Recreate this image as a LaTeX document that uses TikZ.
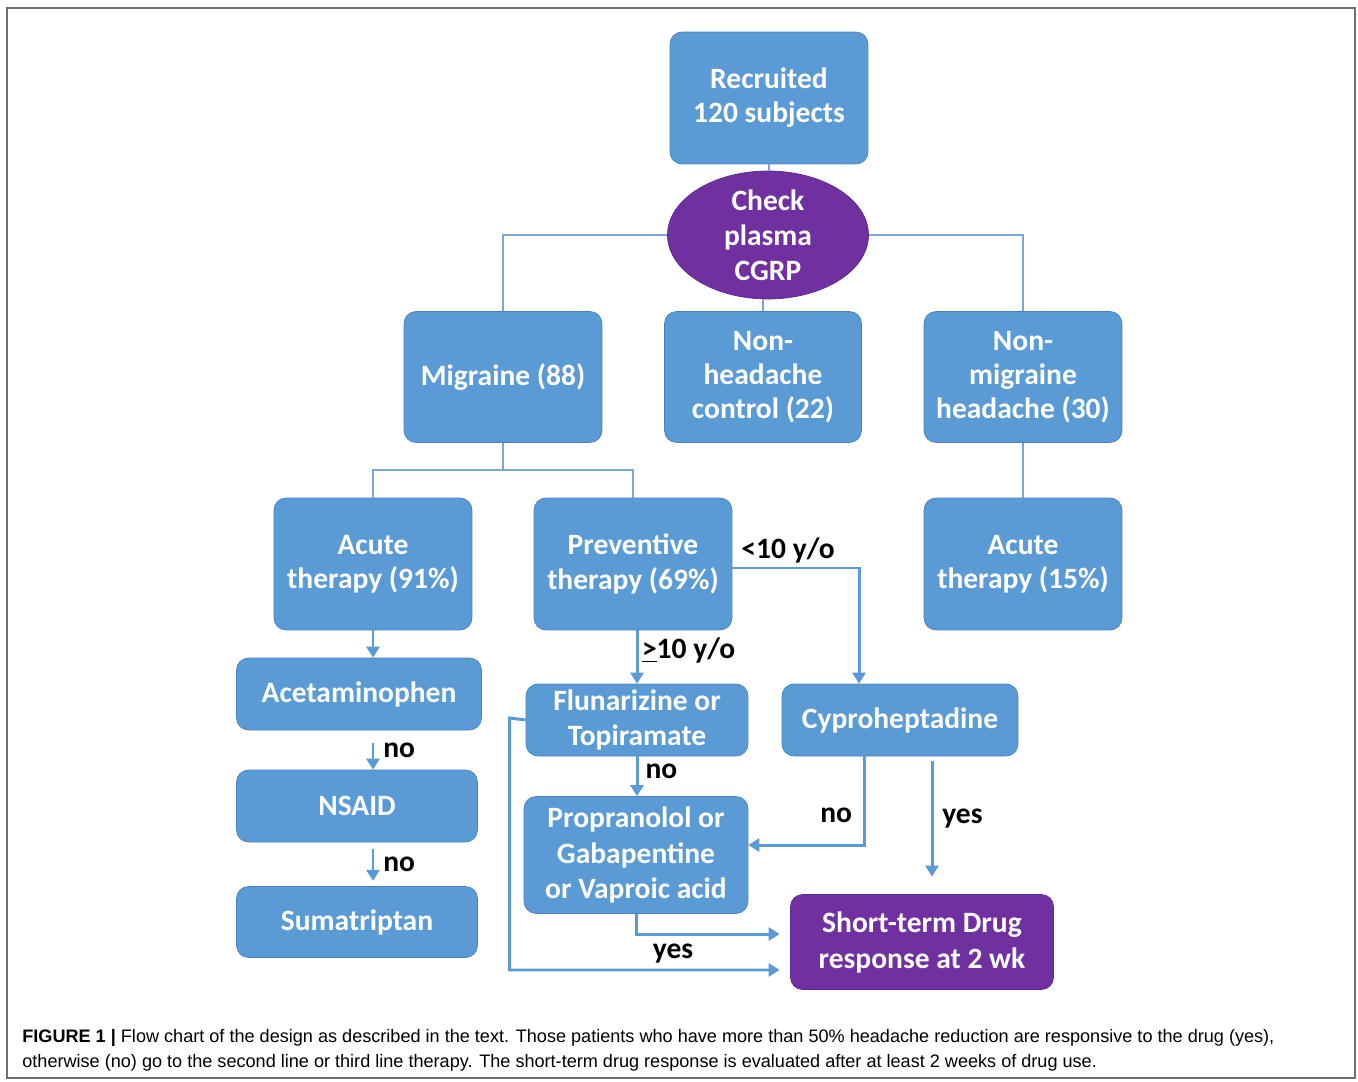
\documentclass[tikz,border=0pt]{standalone}
\usepackage{fontspec}
\setmainfont{Carlito}
\newfontfamily\capfont{Liberation Sans}
\usetikzlibrary{shapes.geometric,arrows.meta}

\definecolor{boxblue}{HTML}{5B9BD5}
\definecolor{boxedge}{HTML}{4A80B8}
\definecolor{boxpurple}{HTML}{7030A0}
\definecolor{purpleedge}{HTML}{5C2A8E}
\definecolor{treeline}{HTML}{7EA6D2}
\definecolor{framegray}{HTML}{707070}

\tikzset{
    box/.style={draw=boxedge, fill=boxblue, rounded corners=0.24cm, text=white, align=center, inner sep=0pt, font=\fontsize{16.8}{19.5}\selectfont\bfseries},
    endbox/.style={box, draw=purpleedge, fill=boxpurple},
    tree/.style={draw=treeline, line width=1pt},
    arr/.style={draw=boxblue, line width=1.7pt, -{Triangle[length=0.22cm, width=0.26cm]}},
    lbl/.style={font=\fontsize{16.8}{19.5}\selectfont\bfseries, inner sep=2pt}
}

\begin{document}
\begin{tikzpicture}[x=0.02cm, y=-0.02cm]
        \useasboundingbox (0,0) rectangle (1358,1081);
        \draw [framegray, line width=1.1pt] (7,8) rectangle (1355,1078);

        % top of the chart
        \node [box, minimum width=3.96cm, minimum height=2.64cm] (rec) at (769,98) {Recruited\\120 subjects};
        \node [ellipse, fill=boxpurple, draw=purpleedge, text=white, align=center, inner sep=0pt, minimum width=4.02cm, minimum height=2.2cm, font=\fontsize{16.8}{19.8}\selectfont\bfseries] (chk) at (768,235) {Check\\plasma\\CGRP};

        % groups
        \node [box, minimum width=3.96cm, minimum height=2.62cm] (mig) at (503,377) {Migraine (88)};
        \node [box, minimum width=3.94cm, minimum height=2.62cm] (nhc) at (763,377) {Non-\\headache\\control (22)};
        \node [box, minimum width=3.96cm, minimum height=2.62cm] (nmh) at (1023,377) {Non-\\migraine\\headache (30)};

        % therapies
        \node [box, minimum width=3.96cm, minimum height=2.64cm] (at1) at (373,564) {Acute\\therapy (91\%)};
        \node [box, minimum width=3.96cm, minimum height=2.64cm] (pre) at (633,564) {Preventive\\therapy (69\%)};
        \node [box, minimum width=3.96cm, minimum height=2.64cm] (at2) at (1023,564) {Acute\\therapy (15\%)};

        % drugs
        \node [box, minimum width=4.9cm, minimum height=1.44cm] (ace) at (359,694) {Acetaminophen};
        \node [box, minimum width=4.82cm, minimum height=1.44cm] (nsa) at (357,806) {NSAID};
        \node [box, minimum width=4.82cm, minimum height=1.42cm] (sum) at (357,922) {Sumatriptan};
        \node [box, minimum width=4.44cm, minimum height=1.44cm] (flu) at (637,720) {Flunarizine or\\Topiramate};
        \node [box, minimum width=4.72cm, minimum height=1.44cm] (cyp) at (900,720) {Cyproheptadine};
        \node [box, minimum width=4.48cm, minimum height=2.34cm, font=\fontsize{16.8}{20.2}\selectfont\bfseries] (pro) at (636,855) {Propranolol or\\Gabapentine\\or Vaproic acid};
        \node [endbox, minimum width=5.26cm, minimum height=1.9cm, font=\fontsize{16.8}{20.5}\selectfont\bfseries] (str) at (922,942) {Short-term Drug\\response at 2 wk};

        % tree lines
        \draw [tree] (rec.south) -- (rec.south |- chk.north);
        \draw [tree] (chk.west) -| (mig.north);
        \draw [tree] (chk.east) -| (nmh.north);
        \draw [tree] (nhc.north |- chk.south) -- (nhc.north);
        \draw [tree] (mig.south) -- ++(0,27) coordinate (mj);
        \draw [tree] (at1.north) |- (mj) -| (pre.north);
        \draw [tree] (nmh.south) -- (at2.north);

        % arrows
        \draw [arr] (at1.south) -- (at1.south |- ace.north);
        \draw [arr, shorten <=7pt] (at1.south |- ace.south) -- (at1.south |- nsa.north) node[lbl, midway, right, xshift=3pt]{no};
        \draw [arr, shorten <=3.5pt, shorten >=3pt] (at1.south |- nsa.south) -- (at1.south |- sum.north) node[lbl, midway, right, xshift=3pt]{no};
        \draw [arr] (flu.north |- pre.south) -- (flu.north) node[lbl, pos=0.38, right]{\underline{>}10 y/o};
        \draw [arr] ([yshift=-0.08cm]pre.east) -| ([xshift=-0.82cm]cyp.north) node[lbl, pos=0.22, above]{<10 y/o};
        \draw [arr] (flu.south) -- (flu.south |- pro.north) node[lbl, pos=0.38, right, xshift=2pt]{no};
        \draw [arr] ([xshift=-0.72cm]cyp.south) |- ([yshift=0.2cm]pro.east) node[lbl, pos=0.33, left, xshift=-4pt]{no};
        \draw [arr, shorten <=2.5pt, shorten >=10pt] ([xshift=0.64cm]cyp.south) -- ([xshift=0.64cm]cyp.south |- str.north) node[lbl, midway, right, xshift=3pt, yshift=4pt]{yes};
        \draw [arr, shorten >=6pt] (pro.south) |- ([yshift=0.16cm]str.west) node[lbl, pos=0.62, below, yshift=-3pt]{yes};
        \draw [arr, shorten >=6pt] (flu.west) -- ++(-16,-2) |- ([yshift=-0.56cm]str.west);

        % caption
        \node [anchor=west, inner sep=0pt, font=\capfont\fontsize{10.3}{14.7}\selectfont] (cap1) at (22,1038) {\textbf{FIGURE 1 |} Flow chart of the design as described in the text. Those patients who have more than 50\% headache reduction are responsive to the drug (yes),};
        \node [anchor=west, inner sep=0pt, font=\capfont\fontsize{10.3}{14.7}\selectfont] (cap2) at (22,1063) {otherwise (no) go to the second line or third line therapy. The short-term drug response is evaluated after at least 2 weeks of drug use.};
    \end{tikzpicture}
\end{document}
